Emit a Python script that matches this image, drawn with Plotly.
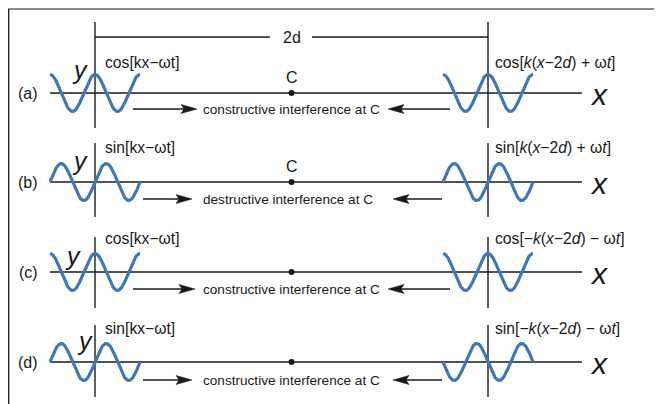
import numpy as np
import plotly.graph_objects as go

# ---------------- data ----------------
panel_labels = ["(a)", "(b)", "(c)", "(d)"]
left_formulas = ["cos[kx−ωt]", "sin[kx−ωt]", "cos[kx−ωt]", "sin[kx−ωt]"]
right_formulas = [
    "cos[<i>k</i>(<i>x</i>−2<i>d</i>) + ω<i>t</i>]",
    "sin[<i>k</i>(<i>x</i>−2<i>d</i>) + ω<i>t</i>]",
    "cos[−<i>k</i>(<i>x</i>−2<i>d</i>) − ω<i>t</i>]",
    "sin[−<i>k</i>(<i>x</i>−2<i>d</i>) − ω<i>t</i>]",
]
interference = [
    "constructive interference at C",
    "destructive interference at C",
    "constructive interference at C",
    "constructive interference at C",
]
show_c_label = [True, True, False, False]
left_wave = ["cos", "sin", "cos", "sin"]
right_wave = ["cos", "sin", "cos", "-sin"]
distance_label = "2d"

# ---------------- layout constants ----------------
PAGE_OFF = 8                        # page body margin
W, H = 662 - PAGE_OFF, 404 - PAGE_OFF
SRC_L, SRC_R = 95.0, 488.0          # source positions (0 and 2d)
MID = (SRC_L + SRC_R) / 2           # point C
LAM = 45.0                          # wavelength
AMP = 18.5                          # amplitude
BASE = [93, 182, 272, 362]          # baseline of each panel
VSPAN = [(22, 128), (143, 217), (237, 308), (325, 397)]
ARROW_Y = [109, 199, 289, 380]
R_ARROW = [(133, 197), (143, 192), (133, 195), (143, 192)]
L_ARROW = [(450, 388), (442, 393), (450, 388), (442, 393)]
LABEL_Y = [62, 147, 238, 328]
Y_LBL = [(80, 70), (80, 161), (73, 256), (85, 341)]
FONT = "Arial, Liberation Sans, sans-serif"
WAVE_COLOR = "#3f78b6"
INK = "#1a1a1a"

funcs = {"cos": np.cos, "sin": np.sin, "-sin": lambda p: -np.sin(p)}

fig = go.Figure()

# structural lines
lx, ly = [], []
for i, b in enumerate(BASE):
    lx += [SRC_L - LAM, 582, None]
    ly += [b, b, None]
    for s in (SRC_L, SRC_R):
        lx += [s, s, None]
        ly += [VSPAN[i][0], VSPAN[i][1], None]
# 2d dimension line
lx += [SRC_L, 270, None, 312, SRC_R, None]
ly += [37, 37, None, 37, 37, None]
fig.add_trace(go.Scatter(x=lx, y=ly, mode="lines", line=dict(color=INK, width=1.4),
                         hoverinfo="skip", showlegend=False))

# waves
phase = np.linspace(-2 * np.pi, 2 * np.pi, 300)
for i, b in enumerate(BASE):
    for src, kind in ((SRC_L, left_wave[i]), (SRC_R, right_wave[i])):
        xs = src + phase / (2 * np.pi) * LAM
        ys = b - AMP * funcs[kind](phase)
        fig.add_trace(go.Scatter(x=xs, y=ys, mode="lines",
                                 line=dict(color=WAVE_COLOR, width=3.2),
                                 hoverinfo="skip", showlegend=False))

# point C
fig.add_trace(go.Scatter(x=[MID] * 4, y=BASE, mode="markers",
                         marker=dict(color=INK, size=6), hoverinfo="skip",
                         showlegend=False))

# arrows (shafts + stealth heads)
ax_, ay_ = [], []
hx, hy = [], []
HL, HW, NOTCH = 16, 4.6, 3
for i, y in enumerate(ARROW_Y):
    for (x0, x1) in (R_ARROW[i], L_ARROW[i]):
        d = 1 if x1 > x0 else -1
        ax_ += [x0, x1 - d * HL + d * NOTCH, None]
        ay_ += [y, y, None]
        hx += [x1, x1 - d * HL, x1 - d * (HL - NOTCH), x1 - d * HL, x1, None]
        hy += [y, y - HW, y, y + HW, y, None]
fig.add_trace(go.Scatter(x=ax_, y=ay_, mode="lines", line=dict(color=INK, width=1.4),
                         hoverinfo="skip", showlegend=False))
fig.add_trace(go.Scatter(x=hx, y=hy, mode="lines", fill="toself", fillcolor=INK,
                         line=dict(color=INK, width=0.5), hoverinfo="skip",
                         showlegend=False))

ann = []
def text(x, y, t, size, xanchor="left", italic=False):
    ann.append(dict(x=x, y=y, xref="x", yref="y", text=t, showarrow=False,
                    xanchor=xanchor, yanchor="middle",
                    font=dict(family=FONT, size=size, color=INK,
                              style="italic" if italic else "normal")))

text(MID, 37, distance_label, 16, "center")
for i in range(4):
    text(28, BASE[i], panel_labels[i], 16, "center")
    text(103, LABEL_Y[i], left_formulas[i], 15.7)
    text(493, LABEL_Y[i], right_formulas[i], 15.7)
    text(201, ARROW_Y[i], interference[i], 13.6)
    text(Y_LBL[i][0], Y_LBL[i][1], "y", 25, "center", italic=True)
    text(599, BASE[i] + 1, "x", 30, "center", italic=True)
    if show_c_label[i]:
        text(MID, BASE[i] - 16, "C", 16, "center")

fig.update_layout(
    width=W, height=H, margin=dict(l=0, r=0, t=0, b=0),
    paper_bgcolor="white", plot_bgcolor="white",
    xaxis=dict(range=[PAGE_OFF, PAGE_OFF + W], visible=False, fixedrange=True),
    yaxis=dict(range=[PAGE_OFF + H, PAGE_OFF], visible=False, fixedrange=True),
    annotations=ann,
    shapes=[
        dict(type="line", xref="x", yref="y", x0=PAGE_OFF, x1=PAGE_OFF + W,
             y0=9, y1=9, line=dict(color="#8a8a8a", width=2.2)),
        dict(type="line", xref="x", yref="y", x0=8.7, x1=8.7,
             y0=9, y1=PAGE_OFF + H, line=dict(color=INK, width=1.3)),
    ],
)

fig.write_html("out.html")
